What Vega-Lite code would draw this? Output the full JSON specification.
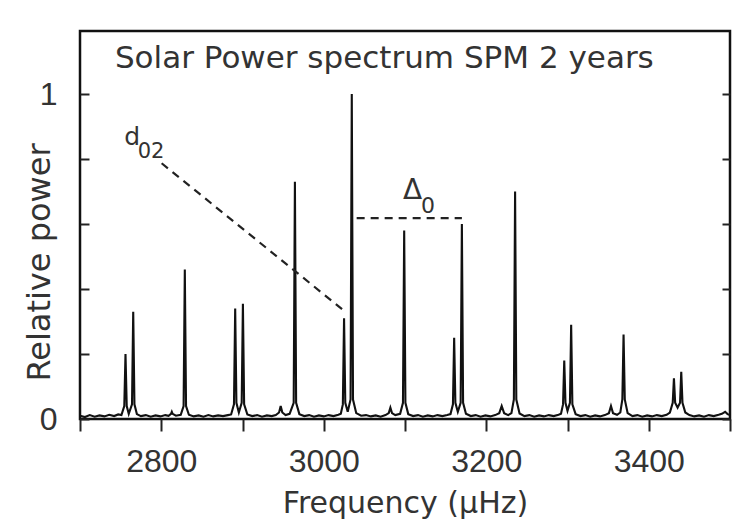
{
  "$schema": "https://vega.github.io/schema/vega-lite/v6.json",
  "width": 650,
  "height": 388,
  "autosize": {"type": "none"},
  "padding": {"left": 80, "top": 31, "right": 14, "bottom": 111},
  "background": "white",
  "config": {
    "view": {"stroke": "#111", "strokeWidth": 2.5},
    "font": "DejaVu Sans"
  },
  "datasets": {
    "spectrum": [
      {"f": 2700, "p": 0.010}, {"f": 2706, "p": 0.006}, {"f": 2712, "p": 0.012}, {"f": 2718, "p": 0.007},
      {"f": 2724, "p": 0.011}, {"f": 2730, "p": 0.008}, {"f": 2736, "p": 0.013}, {"f": 2742, "p": 0.009},
      {"f": 2747, "p": 0.014}, {"f": 2751, "p": 0.012}, {"f": 2754.5, "p": 0.04}, {"f": 2756, "p": 0.20},
      {"f": 2757.5, "p": 0.04}, {"f": 2760, "p": 0.016}, {"f": 2764, "p": 0.045}, {"f": 2765.5, "p": 0.33},
      {"f": 2767, "p": 0.045}, {"f": 2770, "p": 0.015}, {"f": 2775, "p": 0.009}, {"f": 2781, "p": 0.012},
      {"f": 2787, "p": 0.007}, {"f": 2793, "p": 0.011}, {"f": 2799, "p": 0.008}, {"f": 2805, "p": 0.012},
      {"f": 2809, "p": 0.010}, {"f": 2812, "p": 0.016}, {"f": 2813, "p": 0.022}, {"f": 2814, "p": 0.016},
      {"f": 2818, "p": 0.010}, {"f": 2824, "p": 0.013}, {"f": 2827.5, "p": 0.04}, {"f": 2829, "p": 0.46},
      {"f": 2830.5, "p": 0.04}, {"f": 2834, "p": 0.013}, {"f": 2840, "p": 0.008}, {"f": 2846, "p": 0.011},
      {"f": 2852, "p": 0.007}, {"f": 2858, "p": 0.012}, {"f": 2864, "p": 0.008}, {"f": 2870, "p": 0.011},
      {"f": 2876, "p": 0.009}, {"f": 2882, "p": 0.012}, {"f": 2886, "p": 0.014}, {"f": 2889.5, "p": 0.045},
      {"f": 2891, "p": 0.34}, {"f": 2892.5, "p": 0.05}, {"f": 2895.5, "p": 0.02}, {"f": 2899, "p": 0.05},
      {"f": 2900.5, "p": 0.355}, {"f": 2902, "p": 0.045}, {"f": 2906, "p": 0.014}, {"f": 2912, "p": 0.009},
      {"f": 2918, "p": 0.012}, {"f": 2924, "p": 0.007}, {"f": 2930, "p": 0.011}, {"f": 2936, "p": 0.009},
      {"f": 2941, "p": 0.012}, {"f": 2945, "p": 0.02}, {"f": 2947, "p": 0.04}, {"f": 2949, "p": 0.02},
      {"f": 2953, "p": 0.012}, {"f": 2958, "p": 0.016}, {"f": 2963, "p": 0.05}, {"f": 2964.5, "p": 0.73},
      {"f": 2966, "p": 0.05}, {"f": 2970, "p": 0.015}, {"f": 2976, "p": 0.009}, {"f": 2982, "p": 0.012},
      {"f": 2988, "p": 0.007}, {"f": 2994, "p": 0.011}, {"f": 3000, "p": 0.008}, {"f": 3006, "p": 0.012},
      {"f": 3012, "p": 0.009}, {"f": 3018, "p": 0.013}, {"f": 3021, "p": 0.016}, {"f": 3023.5, "p": 0.045},
      {"f": 3025, "p": 0.31}, {"f": 3026.5, "p": 0.05}, {"f": 3029.5, "p": 0.022}, {"f": 3033, "p": 0.06},
      {"f": 3034.5, "p": 1.0}, {"f": 3036, "p": 0.06}, {"f": 3040, "p": 0.018}, {"f": 3046, "p": 0.010},
      {"f": 3052, "p": 0.012}, {"f": 3058, "p": 0.008}, {"f": 3064, "p": 0.011}, {"f": 3070, "p": 0.007},
      {"f": 3076, "p": 0.012}, {"f": 3080, "p": 0.018}, {"f": 3082, "p": 0.035}, {"f": 3084, "p": 0.018},
      {"f": 3088, "p": 0.012}, {"f": 3094, "p": 0.016}, {"f": 3097.5, "p": 0.05}, {"f": 3099, "p": 0.58},
      {"f": 3100.5, "p": 0.05}, {"f": 3104, "p": 0.015}, {"f": 3110, "p": 0.009}, {"f": 3116, "p": 0.012},
      {"f": 3122, "p": 0.007}, {"f": 3128, "p": 0.011}, {"f": 3134, "p": 0.008}, {"f": 3140, "p": 0.012},
      {"f": 3146, "p": 0.009}, {"f": 3152, "p": 0.012}, {"f": 3156, "p": 0.015}, {"f": 3159, "p": 0.045},
      {"f": 3160.5, "p": 0.25}, {"f": 3162, "p": 0.05}, {"f": 3165, "p": 0.022}, {"f": 3168.5, "p": 0.05},
      {"f": 3170, "p": 0.60}, {"f": 3171.5, "p": 0.05}, {"f": 3175, "p": 0.016}, {"f": 3181, "p": 0.009},
      {"f": 3187, "p": 0.012}, {"f": 3193, "p": 0.007}, {"f": 3199, "p": 0.011}, {"f": 3205, "p": 0.008},
      {"f": 3211, "p": 0.012}, {"f": 3216, "p": 0.018}, {"f": 3219, "p": 0.04}, {"f": 3222, "p": 0.018},
      {"f": 3227, "p": 0.012}, {"f": 3231, "p": 0.018}, {"f": 3234, "p": 0.06}, {"f": 3235.5, "p": 0.70},
      {"f": 3237, "p": 0.06}, {"f": 3241, "p": 0.017}, {"f": 3247, "p": 0.009}, {"f": 3253, "p": 0.012},
      {"f": 3259, "p": 0.007}, {"f": 3265, "p": 0.011}, {"f": 3271, "p": 0.008}, {"f": 3277, "p": 0.012},
      {"f": 3283, "p": 0.009}, {"f": 3289, "p": 0.013}, {"f": 3292, "p": 0.016}, {"f": 3294.5, "p": 0.045},
      {"f": 3296, "p": 0.18}, {"f": 3297.5, "p": 0.05}, {"f": 3300, "p": 0.025}, {"f": 3303, "p": 0.05},
      {"f": 3304.5, "p": 0.29}, {"f": 3306, "p": 0.045}, {"f": 3310, "p": 0.015}, {"f": 3316, "p": 0.009},
      {"f": 3322, "p": 0.012}, {"f": 3328, "p": 0.007}, {"f": 3334, "p": 0.011}, {"f": 3340, "p": 0.008},
      {"f": 3346, "p": 0.012}, {"f": 3351, "p": 0.018}, {"f": 3353.5, "p": 0.04}, {"f": 3356, "p": 0.018},
      {"f": 3361, "p": 0.013}, {"f": 3365, "p": 0.02}, {"f": 3367.5, "p": 0.06}, {"f": 3369, "p": 0.26},
      {"f": 3370.5, "p": 0.06}, {"f": 3374, "p": 0.018}, {"f": 3380, "p": 0.009}, {"f": 3386, "p": 0.012},
      {"f": 3392, "p": 0.007}, {"f": 3398, "p": 0.011}, {"f": 3404, "p": 0.008}, {"f": 3410, "p": 0.012},
      {"f": 3416, "p": 0.009}, {"f": 3422, "p": 0.013}, {"f": 3426, "p": 0.02}, {"f": 3429.5, "p": 0.05},
      {"f": 3431, "p": 0.125}, {"f": 3432.5, "p": 0.05}, {"f": 3435.5, "p": 0.035}, {"f": 3438.5, "p": 0.05},
      {"f": 3440, "p": 0.145}, {"f": 3441.5, "p": 0.05}, {"f": 3445, "p": 0.02}, {"f": 3450, "p": 0.012},
      {"f": 3456, "p": 0.008}, {"f": 3462, "p": 0.011}, {"f": 3468, "p": 0.007}, {"f": 3474, "p": 0.012},
      {"f": 3480, "p": 0.009}, {"f": 3486, "p": 0.013}, {"f": 3490, "p": 0.016}, {"f": 3494, "p": 0.022},
      {"f": 3497, "p": 0.015}, {"f": 3500, "p": 0.012}
    ],
    "guides": [
      {"name": "d02", "f": 2800.5, "p": 0.787, "f2": 3028, "p2": 0.327},
      {"name": "Delta0", "f": 3040.5, "p": 0.618, "f2": 3170, "p2": 0.618}
    ],
    "heading": [{"f": 2743, "p": 1.08, "label": "Solar Power spectrum SPM 2 years"}],
    "symD": [{"f": 2754.5, "p": 0.843, "label": "d"}],
    "subD": [{"f": 2771, "p": 0.803, "label": "02"}],
    "symDelta": [{"f": 3097.5, "p": 0.677, "label": "Δ"}],
    "subDelta": [{"f": 3119.7, "p": 0.634, "label": "0"}]
  },
  "resolve": {"axis": {"y": "independent"}},
  "layer": [
    {
      "data": {"name": "spectrum"},
      "mark": {"type": "line", "color": "#111", "strokeWidth": 2.1, "interpolate": "linear"},
      "encoding": {
        "x": {
          "field": "f", "type": "quantitative",
          "scale": {"domain": [2700, 3500], "nice": false, "zero": false},
          "axis": {
            "orient": "bottom",
            "title": "Frequency (μHz)",
            "values": [2700, 2800, 2900, 3000, 3100, 3200, 3300, 3400, 3500],
            "format": "d",
            "labelExpr": "(datum.value == 2800 || datum.value == 3000 || datum.value == 3200 || datum.value == 3400) ? datum.label : ''",
            "grid": false, "domain": false,
            "tickSize": 12, "tickWidth": 2, "tickColor": "#222",
            "labelFont": "Liberation Sans", "labelFontSize": 32, "labelColor": "#333",
            "labelPadding": 15,
            "titleFont": "DejaVu Sans", "titleFontSize": 30, "titleFontWeight": "normal", "titleColor": "#333",
            "titleBaseline": "alphabetic", "titleY": 93, "titleX": 325
          }
        },
        "y": {
          "field": "p", "type": "quantitative",
          "scale": {"domain": [0, 1.194], "nice": false, "zero": true},
          "axis": {
            "orient": "left",
            "title": "Relative power",
            "values": [0, 0.2, 0.4, 0.6, 0.8, 1],
            "labelExpr": "datum.value == 0 ? '0' : (datum.value == 1 ? '1' : '')",
            "grid": false, "domain": false,
            "tickSize": -9, "tickWidth": 2, "tickColor": "#222",
            "labelFont": "Liberation Sans", "labelFontSize": 32, "labelColor": "#333",
            "labelPadding": 32,
            "titleFont": "DejaVu Sans", "titleFontSize": 32, "titleFontWeight": "normal", "titleColor": "#333",
            "titleAngle": -90, "titleBaseline": "middle", "titleAlign": "center",
            "titleX": -41, "titleY": 231
          }
        }
      }
    },
    {
      "data": {"name": "guides"},
      "mark": {"type": "rule", "color": "#222", "strokeWidth": 2.2, "strokeDash": [8, 6]},
      "encoding": {
        "x": {"field": "f", "type": "quantitative"},
        "y": {
          "field": "p", "type": "quantitative",
          "axis": {
            "orient": "right", "title": null,
            "values": [0, 0.2, 0.4, 0.6, 0.8, 1],
            "labels": false, "grid": false, "domain": false,
            "tickSize": -8, "tickWidth": 2, "tickColor": "#222"
          }
        },
        "x2": {"field": "f2"},
        "y2": {"field": "p2"}
      }
    },
    {
      "data": {"name": "heading"},
      "mark": {"type": "text", "align": "left", "baseline": "alphabetic", "font": "DejaVu Sans", "fontSize": 31, "color": "#333"},
      "encoding": {
        "x": {"field": "f", "type": "quantitative"},
        "y": {"field": "p", "type": "quantitative", "axis": null},
        "text": {"field": "label"}
      }
    },
    {
      "data": {"name": "symD"},
      "mark": {"type": "text", "align": "left", "baseline": "alphabetic", "font": "DejaVu Sans", "fontSize": 25, "color": "#333"},
      "encoding": {
        "x": {"field": "f", "type": "quantitative"},
        "y": {"field": "p", "type": "quantitative", "axis": null},
        "text": {"field": "label"}
      }
    },
    {
      "data": {"name": "subD"},
      "mark": {"type": "text", "align": "left", "baseline": "alphabetic", "font": "DejaVu Sans", "fontSize": 21, "color": "#333"},
      "encoding": {
        "x": {"field": "f", "type": "quantitative"},
        "y": {"field": "p", "type": "quantitative", "axis": null},
        "text": {"field": "label"}
      }
    },
    {
      "data": {"name": "symDelta"},
      "mark": {"type": "text", "align": "left", "baseline": "alphabetic", "font": "DejaVu Sans", "fontSize": 28, "color": "#333"},
      "encoding": {
        "x": {"field": "f", "type": "quantitative"},
        "y": {"field": "p", "type": "quantitative", "axis": null},
        "text": {"field": "label"}
      }
    },
    {
      "data": {"name": "subDelta"},
      "mark": {"type": "text", "align": "left", "baseline": "alphabetic", "font": "DejaVu Sans", "fontSize": 22, "color": "#333"},
      "encoding": {
        "x": {"field": "f", "type": "quantitative"},
        "y": {"field": "p", "type": "quantitative", "axis": null},
        "text": {"field": "label"}
      }
    }
  ]
}
